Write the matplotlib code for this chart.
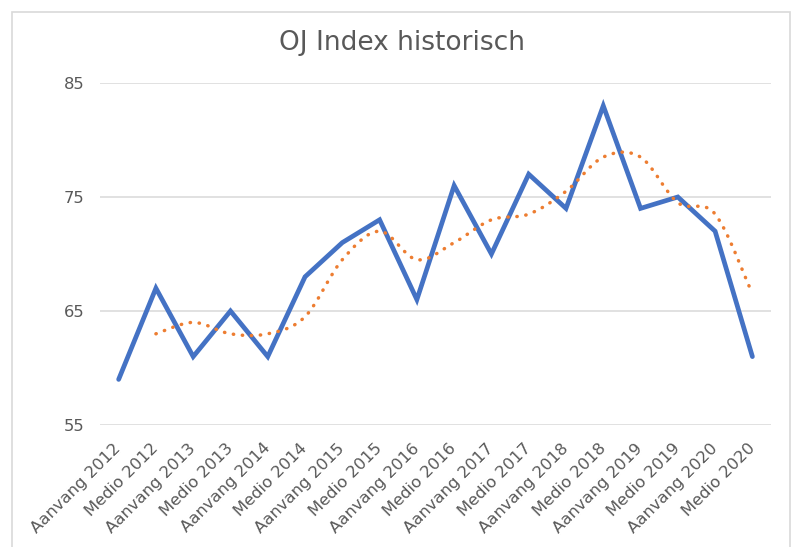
import numpy as np
import matplotlib.pyplot as plt
from matplotlib.path import Path
from matplotlib.patches import PathPatch, Rectangle

# Periodes en waarden
labels = ['Aanvang 2012', 'Medio 2012', 'Aanvang 2013', 'Medio 2013', 'Aanvang 2014',
          'Medio 2014', 'Aanvang 2015', 'Medio 2015', 'Aanvang 2016', 'Medio 2016',
          'Aanvang 2017', 'Medio 2017', 'Aanvang 2018', 'Medio 2018', 'Aanvang 2019',
          'Medio 2019', 'Aanvang 2020', 'Medio 2020']
index_values = [59, 67, 61, 65, 61, 68, 71, 73, 66, 76, 70, 77, 74, 83, 74, 75, 72, 61]
# voortschrijdend gemiddelde (trendlijn), begint bij Medio 2012
trend_values = [63, 64, 63, 63, 64.5, 69.5, 72, 69.5, 71, 73, 73.5, 75.5, 78.5, 78.5, 74.5, 73.5, 66.5]
y_ticks = [55, 65, 75, 85]

blue = '#4472C4'
orange = '#ED7D31'
grey = '#595959'

plt.rcParams['font.family'] = ['DejaVu Sans']

fig = plt.figure(figsize=(7.93, 5.47), dpi=100)
ax = fig.add_axes([0.1261, 0.2230, 0.8462, 0.6253])

# kaderrand zoals in Excel
fig.patches.append(Rectangle((12 / 793, -0.05), 778 / 793, 1 - 12 / 547 + 0.05,
                             transform=fig.transFigure, fill=False,
                             edgecolor='#D9D9D9', linewidth=1.2, clip_on=False))

x = np.arange(len(labels))
ax.plot(x, index_values, color=blue, linewidth=3.4, solid_joinstyle='miter',
        solid_capstyle='round', zorder=3)

# gladde trendlijn (bezier, zoals Excel)
tx = x[1:]
ty = np.array(trend_values)
verts = [(tx[0], ty[0])]
codes = [Path.MOVETO]
n = len(tx)
for i in range(n - 1):
    p0 = (tx[max(i - 1, 0)], ty[max(i - 1, 0)])
    p1 = (tx[i], ty[i])
    p2 = (tx[i + 1], ty[i + 1])
    p3 = (tx[min(i + 2, n - 1)], ty[min(i + 2, n - 1)])
    c1 = (p1[0] + (p2[0] - p0[0]) / 6, p1[1] + (p2[1] - p0[1]) / 6)
    c2 = (p2[0] - (p3[0] - p1[0]) / 6, p2[1] - (p3[1] - p1[1]) / 6)
    verts += [c1, c2, p2]
    codes += [Path.CURVE4] * 3
trend = PathPatch(Path(verts, codes), fill=False, edgecolor=orange, linewidth=2.5,
                  linestyle=(0, (0.1, 2.5)), capstyle='round', zorder=4)
ax.add_patch(trend)

ax.set_xlim(-0.5, len(labels) - 0.5)
ax.set_ylim(55, 85)
ax.set_yticks(y_ticks)
ax.set_xticks(x)
ax.set_xticklabels(labels, rotation=45, ha='right', va='center', rotation_mode='anchor')
ax.tick_params(axis='both', length=0, colors=grey, labelsize=11.8)
ax.tick_params(axis='x', pad=15)
ax.tick_params(axis='y', pad=11)
ax.grid(axis='y', color='#D9D9D9', linewidth=1.1)
ax.set_axisbelow(True)
for s in ax.spines.values():
    s.set_visible(False)

fig.text(0.507, 1 - 43 / 547, 'OJ Index historisch', ha='center', va='center',
         fontsize=19, color=grey)

fig.savefig('out.png', dpi=100)
